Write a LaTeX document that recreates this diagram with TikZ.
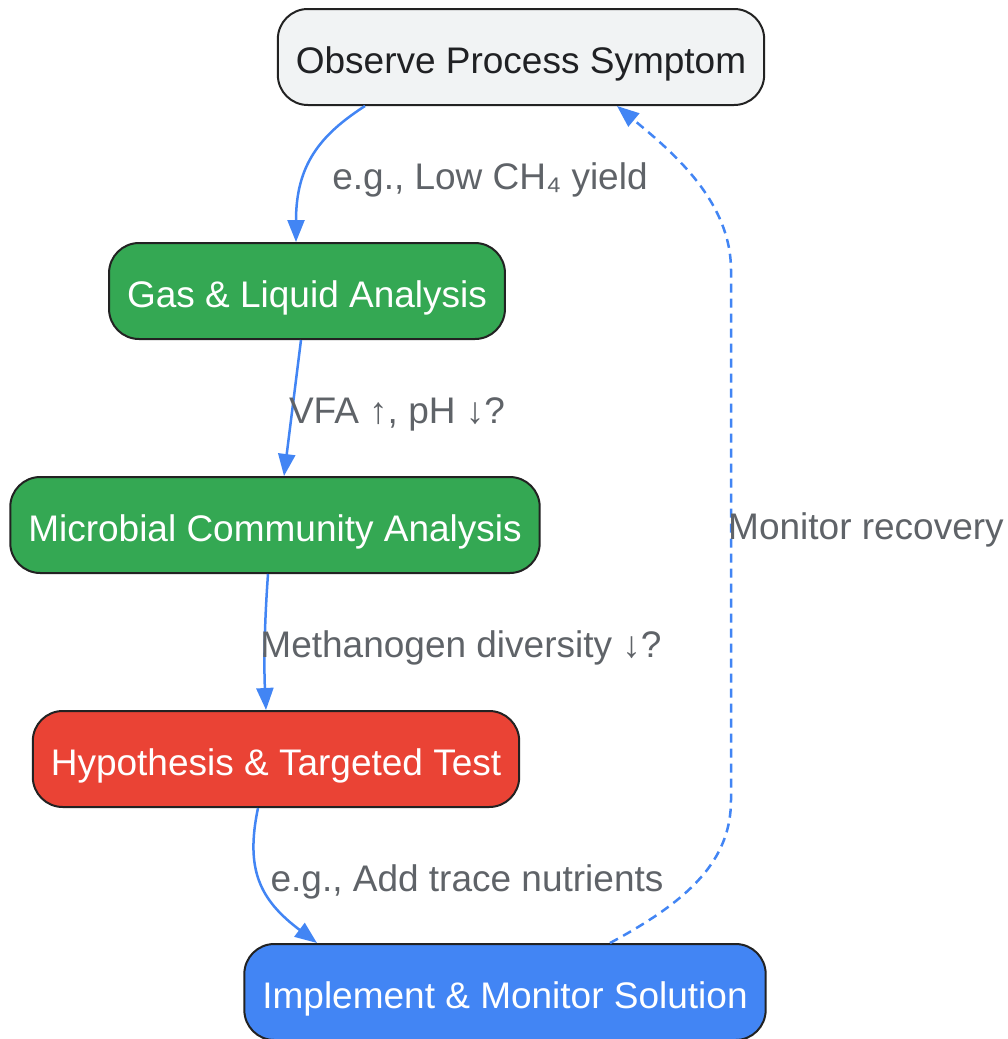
\documentclass[tikz,border=0pt]{standalone}
\usepackage{fontspec}
\setmainfont{Liberation Sans}
\usetikzlibrary{arrows.meta}
\definecolor{obsfill}{HTML}{F1F3F4}
\definecolor{anagreen}{HTML}{34A853}
\definecolor{hypred}{HTML}{EA4335}
\definecolor{flowblue}{HTML}{4285F4}
\definecolor{boxline}{HTML}{222222}
\definecolor{lblgray}{HTML}{5F6368}
\definecolor{darktext}{HTML}{202124}
\begin{document}
\begin{tikzpicture}[
    x=1pt, y=-1pt,
    box/.style={draw=boxline,line width=2pt,rounded corners=30pt,minimum height=96pt,
      inner xsep=18pt,text=white,text height=36pt,text depth=3pt,
      font=\fontsize{37}{44}\selectfont},
    lbl/.style={text=lblgray,inner sep=0pt,text height=30pt,text depth=5pt,
      font=\fontsize{37}{44}\selectfont},
    flow/.style={draw=flowblue,line width=2.5pt,-{Triangle[length=22pt,width=17pt]}},
    back/.style={flow,dash pattern=on 9pt off 6pt}]
  \useasboundingbox (0,0) rectangle (1008,1039);
  \node[box,fill=obsfill,text=darktext] (obs) at (521,57) {Observe Process Symptom};
  \node[box,fill=anagreen] (gas) at (307,291) {Gas \& Liquid Analysis};
  \node[box,fill=anagreen] (micro) at (275,525) {Microbial Community Analysis};
  \node[box,fill=hypred] (hyp) at (276,759) {Hypothesis \& Targeted Test};
  \node[box,fill=flowblue] (impl) at (505,992) {Implement \& Monitor Solution};
  % forward steps
  \draw[flow] ([xshift=-156pt]obs.south) .. controls (320,135) and (296,165) .. ([xshift=-11pt]gas.north);
  \draw[flow] ([xshift=-6pt]gas.south) -- ([xshift=9pt]micro.north);
  \draw[flow] ([xshift=-7pt]micro.south) .. controls (264,630) and (264,670) .. ([xshift=-10pt]hyp.north);
  \draw[flow] ([xshift=-18pt]hyp.south) .. controls (245,870) and (260,900) .. ([xshift=-188pt]impl.north);
  % feedback loop
  \draw[back] ([xshift=105pt]impl.north) .. controls (690,900) and (731,860) .. (731,800)
    -- (731,270) .. controls (731,200) and (670,150) .. ([xshift=96pt]obs.south);
  \node[lbl] (l1) at (490,177) {e.g., Low CH₄ yield};
  \node[lbl] (l2) at (397,411) {VFA ↑, pH ↓?};
  \node[lbl] (l3) at (461,645) {Methanogen diversity ↓?};
  \node[lbl] (l4) at (467,879) {e.g., Add trace nutrients};
  \node[lbl] (l5) at (866,527) {Monitor recovery};
\end{tikzpicture}
\end{document}
